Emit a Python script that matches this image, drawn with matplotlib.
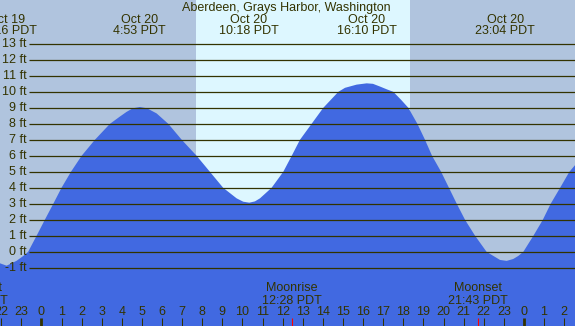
import matplotlib
matplotlib.use("Agg")
import matplotlib.pyplot as plt

plt.rcParams['font.family'] = ['Liberation Sans', 'DejaVu Sans']

# Tide heights (hours from Oct 20 00:00, feet)
tide_hours = [-2.06, -1.73, -1.23, -0.9, -0.66, -0.24, 0.17, 0.59, 1.0, 1.47,
              2.0, 2.66, 3.41, 3.9, 4.24, 4.55, 4.9, 5.25, 5.73, 6.31,
              6.98, 7.72, 8.38, 9.04, 9.71, 10.04, 10.34, 10.62, 10.87, 11.45,
              12.03, 12.45, 12.86, 13.44, 14.02, 14.77, 15.1, 15.68, 16.18, 16.49,
              16.84, 17.19, 17.5, 17.89, 18.25, 18.7, 19.08, 19.43, 19.88, 20.27,
              20.66, 21.07, 21.57, 22.14, 22.48, 22.81, 23.14, 23.47, 23.72, 23.97,
              24.47, 24.94, 25.33, 25.8, 26.26, 26.6]
tide_ft = [-0.72, -0.87, -0.56, -0.26, 0.0, 1.0, 2.0, 3.0, 4.0, 5.0,
           6.0, 7.0, 8.0, 8.45, 8.75, 8.97, 9.05, 8.97, 8.65, 8.0,
           7.0, 6.0, 5.0, 4.0, 3.34, 3.13, 3.07, 3.15, 3.34, 4.0,
           5.0, 6.0, 7.0, 8.0, 9.0, 10.0, 10.25, 10.45, 10.53, 10.5,
           10.33, 10.15, 10.0, 9.5, 9.0, 8.0, 7.0, 6.0, 5.0, 4.0,
           3.0, 2.0, 1.0, 0.0, -0.26, -0.51, -0.57, -0.45, -0.26, 0.0,
           1.0, 2.0, 3.0, 4.0, 5.0, 5.5]

# high / low tide labels
event_hours = [-1.73, 4.88, 10.3, 16.17, 23.07]
event_days = ['Oct 19', 'Oct 20', 'Oct 20', 'Oct 20', 'Oct 20']
event_times = ['22:16 PDT', '4:53 PDT', '10:18 PDT', '16:10 PDT', '23:04 PDT']

# moon events
moon_hours = [-3.15, 12.47, 21.72]
moon_names = ['Moonset', 'Moonrise', 'Moonset']
moon_times = ['20:51 PDT', '12:28 PDT', '21:43 PDT']

sunrise, sunset = 7.69, 18.33
ft_levels = list(range(-1, 14))
hour_ticks = list(range(-2, 27))

night = '#B0C4DE'
day = '#DDF7FF'
water = '#4169E1'
ink = '#333300'

fig = plt.figure(figsize=(5.75, 3.26), dpi=100)
ax = fig.add_axes([0, 0, 1, 1])
ax.set_xlim(-2.06, 26.54)
ax.set_ylim(-4.64, 15.74)
ax.set_facecolor(night)
ax.axis('off')
fig.patch.set_facecolor(night)

ax.axvspan(sunrise, sunset, color=day, lw=0, zorder=0)
ax.fill_between(tide_hours, tide_ft, -10, color=water, lw=0, zorder=1)

ax.hlines(ft_levels, -0.61, 27, color=ink, lw=0.9, zorder=2)
for v in ft_levels:
    ax.text(-0.74, v, '{} ft'.format(v), ha='right', va='center',
            fontsize=9, color=ink, zorder=3)

ax.text(12.2, 15.25, 'Aberdeen, Grays Harbor, Washington', ha='center',
        va='center', fontsize=9, color=ink)
for h, d, t in zip(event_hours, event_days, event_times):
    ax.text(h, 14.5, d, ha='center', va='center', fontsize=9, color=ink)
    ax.text(h, 13.8, t, ha='center', va='center', fontsize=9, color=ink)

for h, n, t in zip(moon_hours, moon_names, moon_times):
    ax.text(h, -2.25, n, ha='center', va='center', fontsize=9, color=ink, zorder=3)
    ax.text(h, -3.05, t, ha='center', va='center', fontsize=9, color=ink, zorder=3)
    ax.vlines(h, -4.64, -4.14, color='red', lw=0.8, zorder=3)

for h in hour_ticks:
    ax.text(h, -3.75, str(h % 24), ha='center', va='center', fontsize=9,
            color=ink, zorder=3)
    lw = 2.0 if h % 24 == 0 else 0.75
    ax.vlines(h, -4.64, -4.14, color=ink, lw=lw, zorder=3)

fig.savefig('out.png', dpi=100, facecolor=night)
